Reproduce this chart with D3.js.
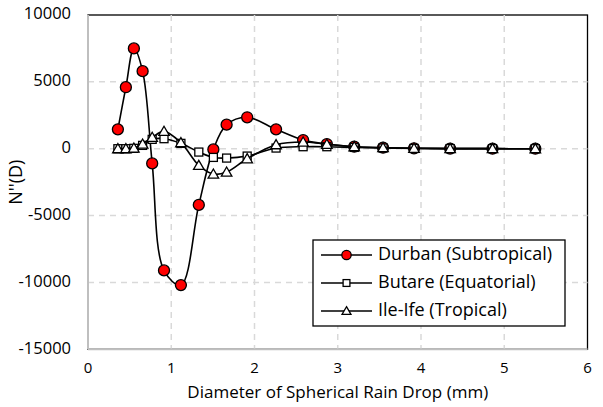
<!DOCTYPE html>
<html>
<head>
<meta charset="utf-8">
<script src="https://cdn.jsdelivr.net/npm/d3@7"></script>
<style>
  body { margin: 0; background: #fff; }
  svg { display: block; font-family: "Open Sans", sans-serif; }
</style>
</head>
<body>
<svg id="chart" width="603" height="407"></svg>
<script>
// Drop diameter bins (mm)
const diameters = [0.359, 0.455, 0.551, 0.656, 0.771, 0.913, 1.116, 1.331, 1.506, 1.665,
                   1.912, 2.259, 2.584, 2.869, 3.198, 3.544, 3.916, 4.350, 4.859, 5.373];
const durban = [1450, 4600, 7500, 5800, -1100, -9100, -10200, -4200, -50, 1800,
                2350, 1450, 650, 350, 150, 80, 30, 10, 5, 0];
const butare = [0, 0, 30, 250, 700, 750, 400, -250, -650, -700,
                -550, 50, 150, 150, 100, 50, 20, 10, 5, 0];
const ileIfe = [0, 0, 50, 350, 850, 1300, 450, -1250, -1900, -1750,
                -750, 300, 500, 330, 150, 80, 30, 10, 5, 0];
const seriesNames = ['Durban (Subtropical)', 'Butare (Equatorial)', 'Ile-Ife (Tropical)'];
const xTicks = [0, 1, 2, 3, 4, 5, 6];
const yTicks = [-15000, -10000, -5000, 0, 5000, 10000];

const margin = { top: 15, right: 15.5, bottom: 57.7, left: 88 };
const W = 603, H = 407;
const iw = W - margin.left - margin.right;
const ih = H - margin.top - margin.bottom;

const svg = d3.select('#chart');
const g = svg.append('g').attr('transform', `translate(${margin.left},${margin.top})`);

const x = d3.scaleLinear().domain([0, 6]).range([0, iw]);
const y = d3.scaleLinear().domain([-15000, 10000]).range([ih, 0]);

// Plot border
g.append('rect').attr('x', 0).attr('y', 0).attr('width', iw).attr('height', ih)
    .attr('fill', 'none').attr('stroke', '#000').attr('stroke-width', 1.3);

// Gridlines
for (const t of xTicks.slice(1, -1)) {
    g.append('line').attr('x1', x(t)).attr('x2', x(t)).attr('y1', 0).attr('y2', ih)
        .attr('stroke', '#d9d9d9').attr('stroke-width', 1.5).attr('stroke-dasharray', '6,5');
}
for (const t of yTicks.slice(1, -1)) {
    g.append('line').attr('x1', 0).attr('x2', iw).attr('y1', y(t)).attr('y2', y(t))
        .attr('stroke', '#d9d9d9').attr('stroke-width', 1.5).attr('stroke-dasharray', '6,5');
}

// Axes lines (gray)
g.append('line').attr('x1', 0).attr('x2', 0).attr('y1', 0).attr('y2', ih)
    .attr('stroke', '#bfbfbf').attr('stroke-width', 2);
g.append('line').attr('x1', 0).attr('x2', iw).attr('y1', ih).attr('y2', ih)
    .attr('stroke', '#bfbfbf').attr('stroke-width', 2);

// Tick labels
for (const t of yTicks) {
    g.append('text').attr('x', -17).attr('y', y(t))
        .attr('text-anchor', 'end').attr('dominant-baseline', 'middle')
        .attr('font-size', 16.5).attr('fill', '#000').text(t);
}
for (const t of xTicks) {
    g.append('text').attr('x', x(t)).attr('y', ih + 20)
        .attr('text-anchor', 'middle').attr('dominant-baseline', 'middle')
        .attr('font-size', 15).attr('fill', '#000').text(t);
}

// Axis titles
g.append('text').attr('x', iw / 2).attr('y', ih + 44)
    .attr('text-anchor', 'middle').attr('dominant-baseline', 'middle')
    .attr('font-size', 17).attr('fill', '#000')
    .text('Diameter of Spherical Rain Drop (mm)');
g.append('text')
    .attr('transform', `translate(${-71},${ih / 2}) rotate(-90)`)
    .attr('text-anchor', 'middle').attr('dominant-baseline', 'middle')
    .attr('font-size', 18).attr('fill', '#000')
    .text("N''(D)");

// Series
const lineGen = d3.line()
    .x(d => x(d[0])).y(d => y(d[1]))
    .curve(d3.curveCatmullRom.alpha(0.5));

const triangle = d3.symbol().type(d3.symbolTriangle);

function drawMarker(sel, kind, cx, cy, s) {
    if (kind === 'circle') {
        sel.append('circle').attr('cx', cx).attr('cy', cy).attr('r', 5.5 * s)
            .attr('fill', '#ff0000').attr('stroke', '#000').attr('stroke-width', 1.3);
    } else if (kind === 'square') {
        const a = 8 * s;
        sel.append('rect').attr('x', cx - a / 2).attr('y', cy - a / 2)
            .attr('width', a).attr('height', a)
            .attr('fill', '#fff').attr('stroke', '#000').attr('stroke-width', 1.3);
    } else {
        sel.append('path').attr('d', triangle.size(48 * s * s)())
            .attr('transform', `translate(${cx},${cy + 1 * s})`)
            .attr('fill', '#fff').attr('stroke', '#000').attr('stroke-width', 1.3);
    }
}

const seriesList = [
    { values: durban, kind: 'circle' },
    { values: butare, kind: 'square' },
    { values: ileIfe, kind: 'triangle' }
];

for (const s of seriesList) {
    const pts = diameters.map((d, i) => [d, s.values[i]]);
    g.append('path').datum(pts).attr('d', lineGen)
        .attr('fill', 'none').attr('stroke', '#000').attr('stroke-width', 1.6);
    for (const p of pts) drawMarker(g, s.kind, x(p[0]), y(p[1]), 1);
}

// Legend
const lg = svg.append('g').attr('transform', 'translate(313,240)');
lg.append('rect').attr('x', 0).attr('y', 0).attr('width', 252).attr('height', 86)
    .attr('fill', '#fff').attr('stroke', '#000').attr('stroke-width', 1.3);
seriesList.forEach((s, i) => {
    const ry = 15 + i * 28;
    lg.append('line').attr('x1', 8).attr('x2', 59).attr('y1', ry).attr('y2', ry)
        .attr('stroke', '#000').attr('stroke-width', 1.6);
    drawMarker(lg, s.kind, 33.5, ry, 0.85);
    lg.append('text').attr('x', 65).attr('y', ry)
        .attr('dominant-baseline', 'middle').attr('font-size', 18).attr('fill', '#000')
        .text(seriesNames[i]);
});
</script>
</body>
</html>
